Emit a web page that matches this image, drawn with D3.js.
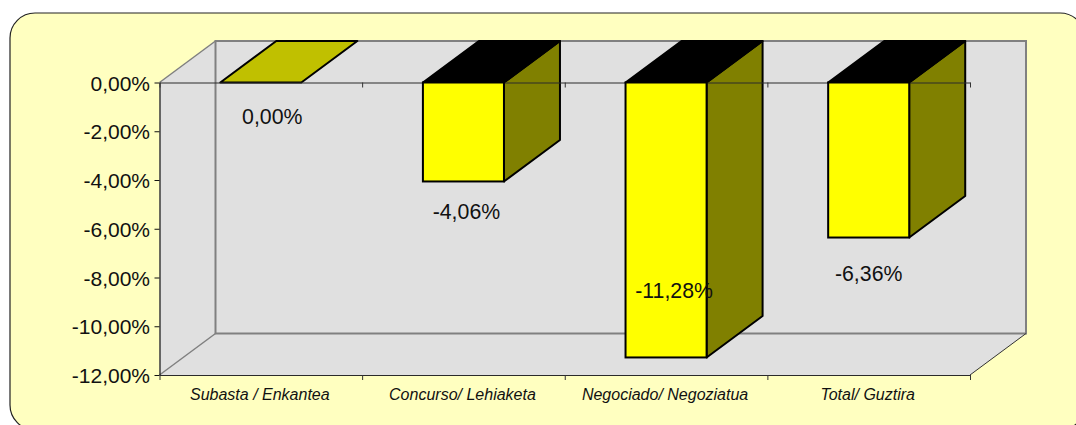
<!DOCTYPE html>
<html><head><meta charset="utf-8">
<script src="https://cdn.jsdelivr.net/npm/d3@7/dist/d3.min.js"></script>
<style>html,body{margin:0;padding:0;background:#fff;overflow:hidden}svg{display:block}text{font-family:"Liberation Sans",Arial,sans-serif;fill:#111}</style>
</head><body><svg id="c" width="1076" height="425"></svg>
<script>
const categories = ["Subasta / Enkantea","Concurso/ Lehiaketa","Negociado/ Negoziatua","Total/ Guztira"];
const values = [0, -4.06, -11.28, -6.36];
const valueLabels = ["0,00%","-4,06%","-11,28%","-6,36%"];
const labelDrop = [41, 38, -59, 43];
const labelShift = [11.5, 3, 8, 0];
const yTicks = [0,-2,-4,-6,-8,-10,-12];

const svg = d3.select("#c");
const L=159.5,R=970,T=82.5,B=375,DX=56,DY=41.5;
const x = d3.scaleBand().domain(categories).range([L,R]).paddingInner(0.6).paddingOuter(0.3);
const xOuter = d3.scaleBand().domain(categories).range([L,R]);
const y = d3.scaleLinear().domain([-12,0]).range([B,T]);
const pts = a => a.map(p=>p.join(",")).join(" ");
const fmt = d => d3.format(".2f")(d).replace("−","-").replace(".",",")+"%";
const val = c => values[categories.indexOf(c)];
const negative = categories.filter(c => val(c) < 0);
const bw = x.bandwidth();

svg.append("rect").attr("x",10).attr("y",13).attr("width",1075).attr("height",417).attr("rx",25)
  .attr("fill","#FFFFC0").attr("stroke","#222").attr("stroke-width",1.2);

// walls and floor
svg.append("polygon").attr("points",pts([[L,T],[L+DX,T-DY],[R+DX,T-DY],[R+DX,B-DY],[R,B],[L,B]])).attr("fill","#E0E0E0");
const grey="#808080";
svg.append("path").attr("d",`M${L},${T}L${L+DX},${T-DY}`).attr("stroke",grey).attr("stroke-width",1.5).attr("fill","none");
svg.append("path").attr("d",`M${L},${B}L${L+DX},${B-DY}`).attr("stroke",grey).attr("stroke-width",1.5).attr("fill","none");
svg.append("path").attr("d",`M${L+DX},${T-DY}V${B-DY}H${R+DX}V${T-DY}Z`).attr("stroke",grey).attr("stroke-width",2).attr("fill","none");
svg.append("path").attr("d",`M${R},${B}L${R+DX},${B-DY}`).attr("stroke","#333").attr("stroke-width",1).attr("fill","none");

// side and top faces
svg.append("g").selectAll("polygon").data(negative).join("polygon")
  .attr("points",c=>pts([[x(c)+bw,T],[x(c)+bw+DX,T-DY],[x(c)+bw+DX,y(val(c))-DY],[x(c)+bw,y(val(c))]]))
  .attr("fill","#808000").attr("stroke","#000").attr("stroke-width",2).attr("stroke-linejoin","round");
svg.append("g").selectAll("polygon").data(categories).join("polygon")
  .attr("points",c=>pts([[x(c),T],[x(c)+DX,T-DY],[x(c)+bw+DX,T-DY],[x(c)+bw,T]]))
  .attr("fill",c=>val(c)<0?"#000":"#C0C000").attr("stroke","#000").attr("stroke-width",2).attr("stroke-linejoin","round");

// value axis
const axY = svg.append("g").attr("transform",`translate(${L},0)`)
  .call(d3.axisLeft(y).tickValues(yTicks).tickFormat(fmt).tickSize(5).tickSizeOuter(0));
axY.select(".domain").attr("stroke","#111").attr("stroke-width",1.2);
axY.selectAll("line").attr("stroke","#111");
axY.selectAll("text").attr("font-size",21).attr("x",-9.5).attr("dy","0.36em").style("font-family",'"Liberation Sans"').attr("fill","#111");

// category axes (zero line with band-edge ticks; bottom line with labels)
const edges = d3.scaleLinear().domain([0,4]).range([L,R]);
[T,B].forEach(py=>{
  const g = svg.append("g").attr("transform",`translate(0,${py})`)
    .call(d3.axisBottom(edges).tickValues([0,1,2,3,4]).tickFormat("").tickSize(5).tickSizeOuter(0));
  g.select(".domain").attr("stroke","#2a2a2a").attr("stroke-width",1.2);
  g.selectAll("line").attr("stroke","#333");
});
const axX = svg.append("g").attr("transform",`translate(-1,${B})`)
  .call(d3.axisBottom(xOuter).tickSize(0));
axX.select(".domain").remove();
axX.selectAll("text").attr("font-size",16).attr("font-style","italic").attr("y",19).attr("dy","0.36em").style("font-family",'"Liberation Sans"').attr("fill","#111");

// front faces above the axis
svg.append("g").selectAll("rect").data(negative).join("rect")
  .attr("x",c=>x(c)).attr("y",T).attr("width",bw)
  .attr("height",c=>y(val(c))-T).attr("fill","#FFFF00").attr("stroke","#000").attr("stroke-width",2);

// data labels
svg.append("g").selectAll("text").data(categories).join("text")
  .attr("x",(c,i)=>xOuter(c)+xOuter.bandwidth()/2+labelShift[i])
  .attr("y",c=>y(val(c))+labelDrop[categories.indexOf(c)]).attr("text-anchor","middle").attr("font-size",21.3)
  .text((c,i)=>valueLabels[i]);
</script></body></html>
